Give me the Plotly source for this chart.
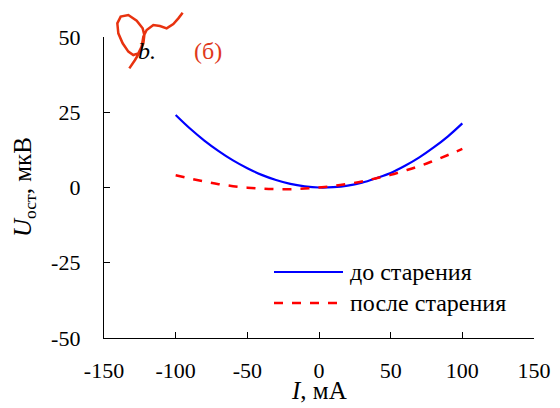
import plotly.graph_objects as go

# Data
current_mA = [-100, -90, -80, -70, -60, -50, -40, -30, -20, -10, 0,
              10, 20, 30, 40, 50, 60, 70, 80, 90, 100]
u_before = [24.1, 19.6, 15.6, 12.1, 9.0, 6.4, 4.2, 2.5, 1.2, 0.4, 0.0,
            0.1, 0.6, 1.6, 3.1, 4.8, 7.2, 10.0, 13.3, 17.0, 21.3]
u_after = [4.1, 3.0, 2.0, 1.1, 0.45, -0.05, -0.4, -0.55, -0.55, -0.35, 0.0,
           0.5, 1.2, 2.0, 3.1, 4.2, 5.6, 7.1, 8.9, 10.8, 12.8]
legend_labels = ["до старения", "после старения"]
x_ticks = [-150, -100, -50, 0, 50, 100, 150]
y_ticks = [-50, -25, 0, 25, 50]

OFF = 8  # page body margin
W, H = 552, 400
L, T = 104 - OFF, 37 - OFF
PW, PH = 430, 301
R, B = W - L - PW, H - T - PH


def px(x):
    return (x - OFF - L) / PW


def py(y):
    return (H - B - (y - OFF)) / PH


FONT = "'Liberation Serif', 'Times New Roman', Times, 'DejaVu Serif', serif"
FS = 22
FT = 25

fig = go.Figure()
fig.add_trace(go.Scatter(x=current_mA, y=u_before, mode="lines",
                         line=dict(color="#0000FF", width=2.2, shape="spline"),
                         name=legend_labels[0], showlegend=False))
fig.add_trace(go.Scatter(x=current_mA, y=u_after, mode="lines",
                         line=dict(color="#FF0000", width=2.5, dash="dash", shape="spline"),
                         name=legend_labels[1], showlegend=False))

axis_common = dict(showgrid=False, zeroline=False, showline=True, linecolor="black",
                   linewidth=1.3, ticks="inside", ticklen=6, tickcolor="black",
                   tickwidth=1.3, mirror=False, automargin=False,
                   tickfont=dict(family=FONT, size=FS, color="black"))

fig.update_xaxes(range=[-150, 150], tickvals=x_ticks, ticktext=[str(v) for v in x_ticks],
                 ticklabelstandoff=12,
                 **axis_common)
fig.update_yaxes(range=[-50, 50], tickvals=y_ticks, ticktext=[str(v) for v in y_ticks],
                 ticklabelstandoff=18,
                 **axis_common)

shapes = []
annotations = []
# axis titles
annotations.append(dict(xref="paper", yref="paper", x=px(319), y=py(390),
                        xanchor="center", yanchor="middle", showarrow=False,
                        text="<i>I</i>, мА", font=dict(family=FONT, size=FT, color="black")))
annotations.append(dict(xref="paper", yref="paper", x=px(24), y=py(187),
                        xanchor="center", yanchor="middle", showarrow=False, textangle=-90,
                        text="<i>U</i><sub>ост</sub>, мкВ",
                        font=dict(family=FONT, size=FT, color="black")))
# custom legend
leg_rows = [(272, "#0000FF", "solid", 2.2), (303, "#FF0000", "dash", 2.5)]
for (yy, col, dash, wd), lab in zip(leg_rows, legend_labels):
    shapes.append(dict(type="line", xref="paper", yref="paper",
                       x0=px(274), x1=px(343), y0=py(yy), y1=py(yy),
                       line=dict(color=col, width=wd, dash=dash)))
    annotations.append(dict(xref="paper", yref="paper", x=px(348), y=py(yy),
                            xanchor="left", yanchor="middle", showarrow=False,
                            text=lab, font=dict(family=FONT, size=24, color="black")))

# panel label
annotations.append(dict(xref="paper", yref="paper", x=px(147), y=py(51),
                        xanchor="center", yanchor="middle", showarrow=False,
                        text="<i>b.</i>", font=dict(family=FONT, size=24, color="black")))
annotations.append(dict(xref="paper", yref="paper", x=px(208), y=py(51),
                        xanchor="center", yanchor="middle", showarrow=False,
                        text="(б)", font=dict(family=FONT, size=24, color="#E0391C")))

# red hand-drawn scribble (zoom-crop coordinates, 3x, origin at page (100, 0))
scrib = [(88, 205), (105, 180), (120, 155), (130, 130), (133, 105), (128, 85), (110, 62),
         (85, 45), (62, 50), (52, 70), (55, 100), (68, 130), (85, 155), (100, 165),
         (115, 160), (125, 140), (130, 110), (140, 90), (160, 75), (180, 78), (200, 85),
         (220, 72), (235, 55), (248, 38)]
pts = [(100 + a / 3, b / 3) for a, b in scrib]
path = "M " + " L ".join(f"{px(a):.4f},{py(b):.4f}" for a, b in pts)
shapes.append(dict(type="path", xref="paper", yref="paper", path=path,
                   line=dict(color="#E8320F", width=2.5)))

fig.update_layout(width=W, height=H, margin=dict(l=L, r=R, t=T, b=B, autoexpand=False),
                  plot_bgcolor="white", paper_bgcolor="white",
                  shapes=shapes, annotations=annotations, showlegend=False)

fig.write_html("out.html")
